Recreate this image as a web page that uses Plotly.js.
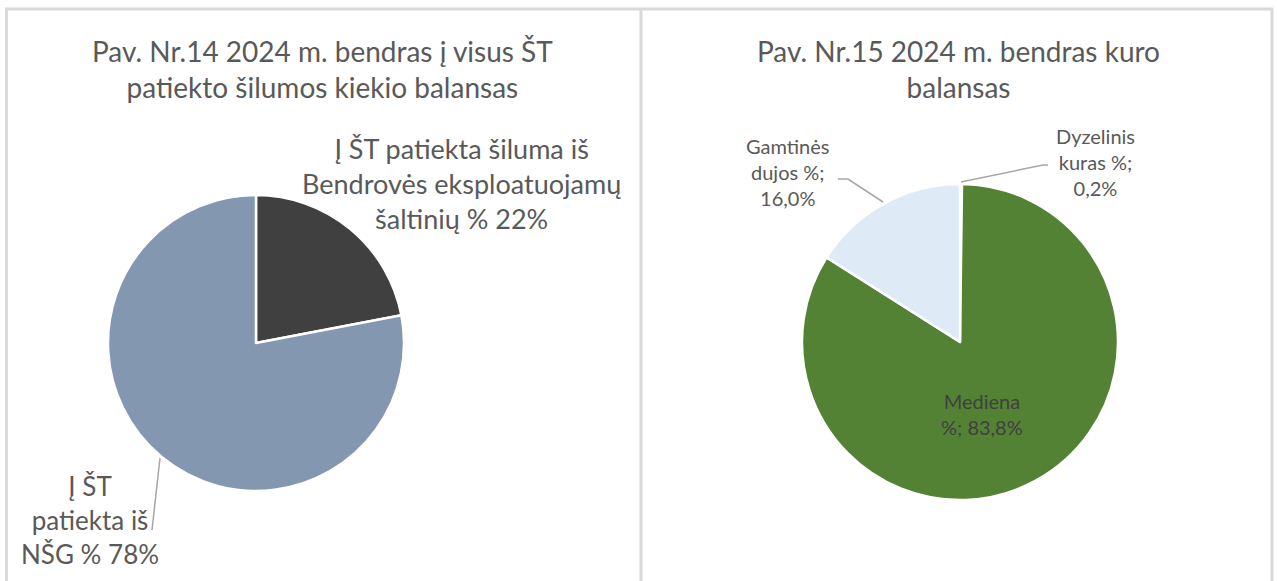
<!DOCTYPE html>
<html>
<head>
<meta charset="utf-8">
<script src="https://cdn.plot.ly/plotly-3.0.1.min.js"></script>
<style>html,body{margin:0;padding:0;background:#fff;}#chart{width:1277px;height:581px;}</style>
</head>
<body>
<div id="chart"></div>
<script>
// ---- data ----
const leftCategories = ["Į ŠT patiekta šiluma iš Bendrovės eksploatuojamų šaltinių %", "Į ŠT patiekta iš NŠG %"];
const leftValues = [22, 78];
const leftLabelTexts = ["Į ŠT patiekta šiluma iš<br>Bendrovės eksploatuojamų<br>šaltinių % 22%", "Į ŠT<br>patiekta iš<br>NŠG % 78%"];
const leftColors = ["#404040", "#8497b0"];

const rightCategories = ["Dyzelinis kuras %", "Mediena %", "Gamtinės dujos %"];
const rightValues = [0.2, 83.8, 16.0];
const rightLabelTexts = ["Dyzelinis<br>kuras %;<br>0,2%", "Mediena<br>%; 83,8%", "Gamtinės<br>dujos %;<br>16,0%"];
const rightColors = ["#a5a5a5", "#548235", "#deebf7"];

const leftTitle = "Pav. Nr.14 2024 m. bendras į visus ŠT<br>patiekto šilumos kiekio balansas";
const rightTitle = "Pav. Nr.15 2024 m. bendras kuro<br>balansas";

// ---- layout helpers ----
const W = 1277, H = 581;
const fx = p => p / W;
const fy = p => 1 - p / H;
const FONT = "Lato, 'Open Sans', sans-serif";

const traces = [
  {
    type: "pie", labels: leftCategories, values: leftValues,
    sort: false, direction: "clockwise", rotation: 0,
    marker: {colors: leftColors, line: {color: "#ffffff", width: 2.5}},
    textinfo: "none", hoverinfo: "label+percent", showlegend: false,
    domain: {x: [fx(108), fx(404)], y: [fy(491), fy(195)]}
  },
  {
    type: "pie", labels: rightCategories, values: rightValues,
    sort: false, direction: "clockwise", rotation: 0,
    marker: {colors: rightColors, line: {color: "#ffffff", width: 2.5}},
    textinfo: "none", hoverinfo: "label+percent", showlegend: false,
    domain: {x: [fx(802), fx(1118)], y: [fy(501), fy(183)]}
  }
];

function ann(text, x, y, size, color) {
  return {text: text, x: fx(x), y: fy(y), xref: "paper", yref: "paper",
    xanchor: "center", yanchor: "middle", showarrow: false, align: "center",
    font: {family: FONT, size: size, color: color || "#595959"}};
}
function seg(pts) {
  let d = "M " + pts.map(p => fx(p[0]) + " " + fy(p[1])).join(" L ");
  return {type: "path", xref: "paper", yref: "paper", path: d,
    line: {color: "#a6a6a6", width: 1.5}};
}
function bline(x0, y0, x1, y1) {
  return {type: "line", xref: "paper", yref: "paper", x0: fx(x0), y0: fy(y0), x1: fx(x1), y1: fy(y1),
    line: {color: "#d9d9d9", width: 3}};
}

const layout = {
  width: W, height: H,
  margin: {l: 0, r: 0, t: 0, b: 0},
  paper_bgcolor: "#ffffff",
  font: {family: FONT},
  annotations: [
    ann(leftTitle, 322, 69, 28),
    ann(rightTitle, 958, 69, 28),
    ann(leftLabelTexts[0], 462, 183, 27),
    ann(leftLabelTexts[1], 90, 520, 26),
    ann(rightLabelTexts[0], 1095, 162, 20),
    ann(rightLabelTexts[2], 788, 172, 20),
    ann(rightLabelTexts[1], 982, 414, 20, "#404040")
  ],
  shapes: [
    bline(5, 9, 1273, 9),
    bline(6.5, 9, 6.5, 581),
    bline(641, 9, 641, 581),
    bline(1272, 9, 1272, 581),
    seg([[160, 458], [152, 530]]),
    seg([[838, 179], [848, 179], [883, 202]]),
    seg([[961, 182], [1043, 165], [1048, 165]])
  ]
};

Plotly.newPlot("chart", traces, layout, {displayModeBar: false, staticPlot: true});
</script>
</body>
</html>
